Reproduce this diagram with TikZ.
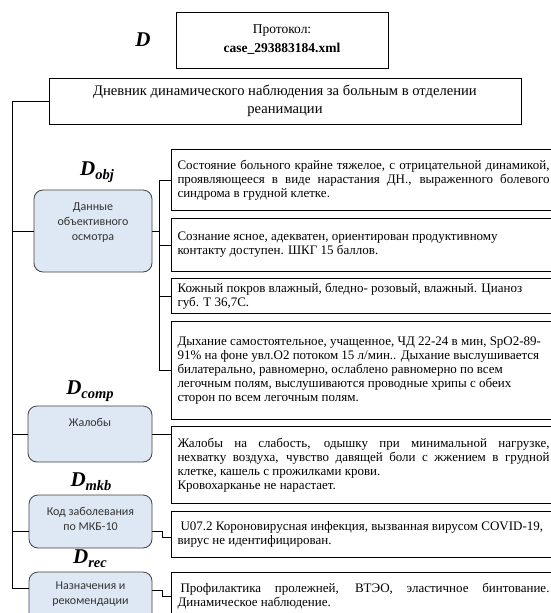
\documentclass[tikz,border=0pt]{standalone}
\usepackage{fontspec}
\setmainfont{Liberation Serif}
\newfontfamily\calfont{Carlito}
\usepackage{tikz}
\hyphenpenalty=10000
\exhyphenpenalty=10000

\definecolor{grpfill}{HTML}{DEE8F4}
\tikzset{
  conn/.style={line width=0.8pt},
  txtbox/.style={draw, line width=1pt, anchor=north west, text width=372pt,
    inner xsep=6pt, inner ysep=0pt, align=justify,
    font=\fontsize{13}{14}\selectfont},
  grpbox/.style={draw=black!75, fill=grpfill, rounded corners=9pt, line width=0.8pt},
  grptxt/.style={font=\calfont\fontsize{12}{15}\selectfont, text=black!80, align=center},
  dlab/.style={font=\fontsize{21}{21}\selectfont\bfseries\itshape},
}
\newcommand{\dname}[1]{D\raisebox{-0.4ex}{\fontsize{14.5}{14.5}\selectfont #1}}

\begin{document}
\begin{tikzpicture}[x=1pt,y=-1pt]
\useasboundingbox (0,0) rectangle (550,613);

% header
\node[dlab] (dtop) at (143,40) {D};
\node[draw, line width=1pt, minimum width=212pt, minimum height=56pt, align=center,
  font=\fontsize{13.5}{19}\selectfont] (proto) at (282,40) {Протокол:\\\textbf{case\_293883184.xml}};
\node[draw, line width=1pt, minimum width=472pt, minimum height=46pt, align=center,
  font=\fontsize{14.6}{18}\selectfont] (diary) at (285,101)
  {Дневник динамического наблюдения за больным в отделении\\реанимации};

% left column
\node[dlab] (dobj) at (97,172) {\dname{obj}};
\node[grpbox, minimum width=118pt, minimum height=82pt] (dan) at (93,231) {};
\node[grptxt] (dantxt) at (93,223) {Данные\\объективного\\осмотра};

\node[dlab] (dcomp) at (90,391) {\dname{comp}};
\node[grpbox, minimum width=124pt, minimum height=56pt] (zhal) at (90,434) {};
\node[grptxt] (zhaltxt) at (90,422) {Жалобы};

\node[dlab] (dmkb) at (91,482) {\dname{mkb}};
\node[grpbox, minimum width=123pt, minimum height=53pt] (kod) at (90.5,521.5) {};
\node[grptxt] (kodtxt) at (90.5,519) {Код заболевания\\по МКБ-10};

\node[dlab] (drec) at (90,559) {\dname{rec}};
\node[grpbox, minimum width=123pt, minimum height=54pt] (nazn) at (90.5,599) {};
\node[grptxt] (nazntxt) at (90.5,594) {Назначения и\\рекомендации};

% right column
\node[txtbox, minimum height=61pt] (obj1) at (171,149)
  {Состояние больного крайне тяжелое, с отрицательной динамикой,\linebreak
   проявляющееся в виде нарастания ДН., выраженного болевого\linebreak
   синдрома в грудной клетке.};
\node[txtbox, minimum height=53pt] (obj2) at (171,218)
  {Сознание ясное, адекватен, ориентирован продуктивному\\
   контакту доступен. ШКГ 15 баллов.};
\node[txtbox, minimum height=35pt] (obj3) at (171,278)
  {Кожный покров влажный, бледно- розовый, влажный. Цианоз\\
   губ. Т 36,7С.};
\node[txtbox, minimum height=98pt] (obj4) at (171,321)
  {Дыхание самостоятельное, учащенное, ЧД 22-24 в мин, SpO2-89-\\
   91\% на фоне увл.O2 потоком 15 л/мин.. Дыхание выслушивается\\
   билатерально, равномерно, ослаблено равномерно по всем\\
   легочным полям, выслушиваются проводные хрипы с обеих\\
   сторон по всем легочным полям.};
\node[txtbox, minimum height=77pt] (obj5) at (171,426)
  {Жалобы на слабость, одышку при минимальной нагрузке,\linebreak
   нехватку воздуха, чувство давящей боли с жжением в грудной\linebreak
   клетке, кашель с прожилками крови.\\
   Кровохарканье не нарастает.};
\node[txtbox, minimum height=46pt] (obj6) at (171,511)
  {\hspace*{3pt}U07.2 Короновирусная инфекция, вызванная вирусом COVID-19,\\
   вирус не идентифицирован.};
\node[txtbox, minimum height=48pt] (obj7) at (171,572)
  {\hspace*{3pt}Профилактика пролежней, ВТЭО, эластичное бинтование.\linebreak
   Динамическое наблюдение.};

% trunk
\coordinate (trtop) at (12,101);
\coordinate (naznin) at ([yshift=11pt]nazn.west);
\coordinate (trbot) at (trtop |- naznin);
\draw[conn] (diary.west) -- (trtop) -- (trbot) -- (naznin);
\draw[conn] (dan.west) -- (dan.west -| trtop);
\draw[conn] (zhal.west) -- (zhal.west -| trtop);
\coordinate (kodin) at ([yshift=-10pt]kod.west);
\draw[conn] (kodin) -- (kodin -| trtop);

% brackets to the text boxes
\coordinate (brk) at ([xshift=-12pt]obj1.west);
\draw[conn] (obj1.west) -- (brk) |- (obj4.west);
\draw[conn] (dan.east) -- (dan.east -| brk);
\draw[conn] (obj2.west) -- (obj2.west -| brk);
\draw[conn] (obj3.west) -- (obj3.west -| brk);
\draw[conn] (zhal.east) -- (zhal.east -| obj5.west);
\coordinate (kodout) at ([yshift=-10pt]kod.east);
\draw[conn] (kodout) -- ++(10,0) |- ([yshift=-3pt]obj6.west);
\coordinate (naznout) at ([yshift=9pt]nazn.east);
\draw[conn] (naznout) -- ++(10,0) |- (obj7.west);
\end{tikzpicture}
\end{document}
